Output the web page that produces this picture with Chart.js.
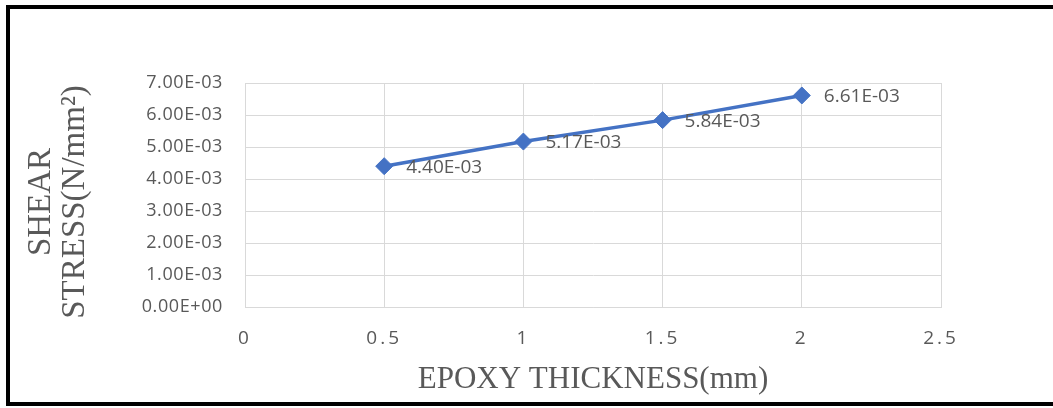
<!DOCTYPE html>
<html>
<head>
<meta charset="utf-8">
<script src="https://cdn.jsdelivr.net/npm/chart.js@4.4.1/dist/chart.umd.min.js"></script>
<style>
  html, body { margin: 0; padding: 0; background: #fff; }
  #wrap { position: relative; width: 1053px; height: 408px; overflow: hidden; }
  #c { position: absolute; left: 0; top: 0; }
  #frame { position: absolute; left: 6px; top: 5px; width: 1100px; height: 401px; box-sizing: border-box; border: 4px solid #000; pointer-events: none; }
</style>
</head>
<body>
<div id="wrap">
  <canvas id="c" width="1053" height="408"></canvas>
  <div id="frame"></div>
</div>
<script>
// ---- data ----
const thickness = [0.5, 1, 1.5, 2];                 // EPOXY THICKNESS (mm)
const shearStress = [0.00440, 0.00517, 0.00584, 0.00661]; // SHEAR STRESS (N/mm²)
const xAxisTitle = 'EPOXY THICKNESS(mm)';
const yAxisTitle = ['SHEAR', 'STRESS(N/mm²)'];
const xTickLabels = ['0', '0.5', '1', '1.5', '2', '2.5'];
const yTickLabels = ['0.00E+00', '1.00E-03', '2.00E-03', '3.00E-03', '4.00E-03', '5.00E-03', '6.00E-03', '7.00E-03'];

function sci(v) {
  if (Math.abs(v) < 1e-12) return '0.00E+00';
  const e = Math.floor(Math.log10(Math.abs(v)) + 1e-9);
  const m = v / Math.pow(10, e);
  const sign = e < 0 ? '-' : '+';
  const ae = Math.abs(e);
  return m.toFixed(2) + 'E' + sign + (ae < 10 ? '0' + ae : String(ae));
}

const GRID = '#d9d9d9';
const TXT = '#595959';

// wraps a scale's label/title drawing to tweak letter spacing and title offset
function styleScale(spacing, titleShiftY) {
  return function (scale) {
    if (scale._styleWrap) return;
    const origLabels = scale.drawLabels.bind(scale);
    scale.drawLabels = function (area) {
      const ctx = scale.ctx;
      ctx.save();
      ctx.letterSpacing = spacing;
      origLabels(area);
      ctx.restore();
    };
    const origTitle = scale.drawTitle.bind(scale);
    scale.drawTitle = function () {
      const ctx = scale.ctx;
      ctx.save();
      ctx.translate(0, titleShiftY);
      origTitle();
      ctx.restore();
    };
    scale._styleWrap = true;
  };
}

const dataLabelPlugin = {
  id: 'pointValueLabels',
  afterDatasetsDraw(chart) {
    const ctx = chart.ctx;
    const meta = chart.getDatasetMeta(0);
    ctx.save();
    ctx.font = '19px "Open Sans"';
    ctx.fillStyle = TXT;
    ctx.textAlign = 'left';
    ctx.textBaseline = 'middle';
    meta.data.forEach((pt, i) => {
      ctx.fillText(sci(shearStress[i]), pt.x + 22, pt.y + 1);
    });
    ctx.restore();
  }
};

new Chart(document.getElementById('c'), {
  type: 'line',
  data: {
    datasets: [{
      data: thickness.map((x, i) => ({ x: x, y: shearStress[i] })),
      borderColor: '#4472C4',
      backgroundColor: '#4472C4',
      borderWidth: 3.5,
      pointStyle: 'rectRot',
      pointRadius: 8.5,
      pointBorderWidth: 1,
      pointBackgroundColor: '#4472C4',
      pointBorderColor: '#4472C4',
      tension: 0,
      fill: false
    }]
  },
  options: {
    responsive: false,
    devicePixelRatio: 1,
    animation: false,
    layout: { padding: { left: 0, right: 112, top: 83, bottom: 0 } },
    plugins: { legend: { display: false }, tooltip: { enabled: false } },
    scales: {
      x: {
        type: 'linear',
        min: 0, max: 2.5,
        afterFit(s) { s.height = 101; },
        afterUpdate: styleScale('3px', 0),
        ticks: {
          stepSize: 0.5,
          padding: 20,
          color: TXT,
          font: { family: 'Open Sans', size: 19 },
          callback: (v, i) => xTickLabels[i] !== undefined ? xTickLabels[i] : String(v),
          maxRotation: 0
        },
        grid: { color: GRID, lineWidth: 1, drawTicks: false },
        border: { color: GRID, width: 1 },
        title: {
          display: true,
          text: xAxisTitle,
          color: TXT,
          font: { family: 'Liberation Serif', size: 31 },
          padding: { top: 0, bottom: 10 }
        }
      },
      y: {
        min: 0, max: 0.007,
        afterFit(s) { s.width = 245; },
        afterUpdate: styleScale('0.6px', 7),
        ticks: {
          stepSize: 0.001,
          padding: 22,
          color: TXT,
          font: { family: 'Open Sans', size: 18 },
          callback: (v, i) => yTickLabels[i] !== undefined ? yTickLabels[i] : sci(v)
        },
        grid: { color: GRID, lineWidth: 1, drawTicks: false },
        border: { color: GRID, width: 1 },
        title: {
          display: true,
          text: yAxisTitle,
          color: TXT,
          font: { family: 'Liberation Serif', size: 33, lineHeight: 1.04 },
          padding: { top: 24, bottom: 0 }
        }
      }
    }
  },
  plugins: [dataLabelPlugin]
});
</script>
</body>
</html>
